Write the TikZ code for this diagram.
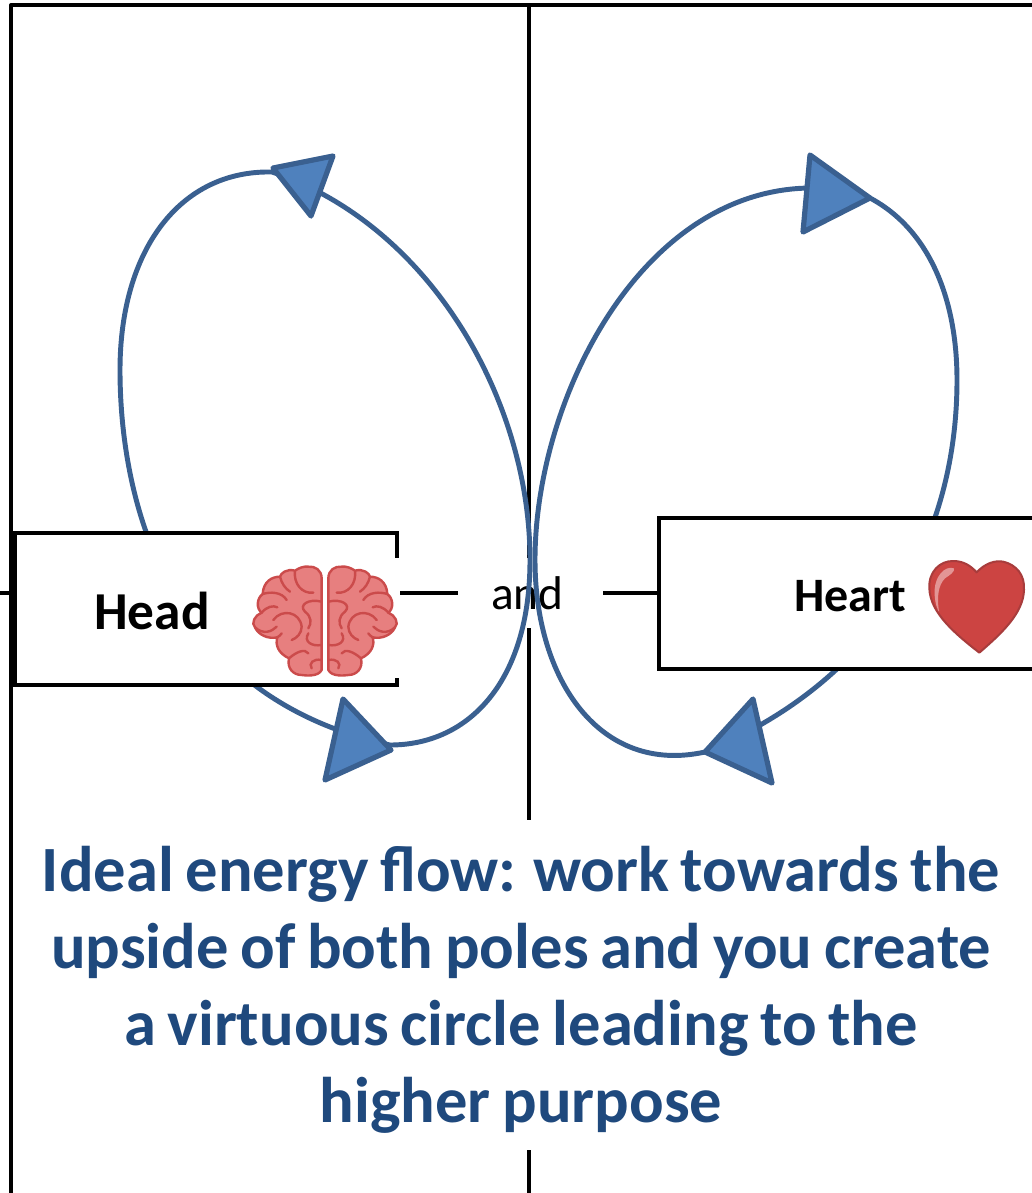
\documentclass[tikz,border=0pt]{standalone}
\usepackage{fontspec}
\setmainfont{Carlito}
\newfontfamily\titlefont[WordSpace=0.8,BoldFeatures={WordSpace=0.8}]{Carlito}
\definecolor{curveblue}{HTML}{3A6090}
\definecolor{fillblue}{HTML}{4F81BD}
\definecolor{titleblue}{HTML}{1F497D}
\definecolor{brainfill}{HTML}{E77F7F}
\definecolor{brainline}{HTML}{CB4B4B}
\definecolor{heartfill}{HTML}{CC4442}
\definecolor{heartline}{HTML}{A83C3C}
\definecolor{hearthi}{HTML}{E39595}
\tikzset{
  frameline/.style={black,line width=3pt},
  loopcurve/.style={curveblue,line width=3.7pt},
  flowtip/.style={draw=curveblue,fill=fillblue,line width=3.9pt,line join=round},
  polebox/.style={draw=black,fill=white,line width=3pt,inner sep=0pt,outer sep=0pt},
  coverlabel/.style={fill=white,inner sep=0pt,outer sep=0pt,align=center},
  brainhalf/.style={draw=brainline,fill=brainfill,line width=1.8pt,line join=round},
  brainfold/.style={draw=brainline,line width=1.8pt,line cap=round}
}
\newcommand{\brainside}{%
  \path[brainhalf] (245,175) .. controls (245,150) and (225,138) .. (205,140)
    .. controls (190,138) and (175,145) .. (165,152)
    .. controls (140,145) and (122,160) .. (120,170)
    .. controls (95,170) and (70,185) .. (68,222)
    .. controls (50,235) and (48,265) .. (65,278)
    .. controls (45,285) and (32,310) .. (45,322)
    .. controls (55,345) and (85,358) .. (112,352)
    .. controls (105,375) and (115,400) .. (147,415)
    .. controls (140,445) and (160,465) .. (185,465)
    .. controls (200,467) and (235,470) .. (245,450) -- cycle;
  \path[brainfold] (165,152) .. controls (160,190) and (185,222) .. (220,218);
  \path[brainfold] (120,170) .. controls (125,190) and (135,205) .. (150,215);
  \path[brainfold] (68,222) .. controls (90,215) and (125,215) .. (140,240);
  \path[brainfold] (65,278) .. controls (80,260) and (100,255) .. (112,262);
  \path[brainfold] (45,322) .. controls (70,345) and (95,335) .. (110,320);
  \path[brainfold] (100,300) .. controls (125,265) and (180,275) .. (185,320) .. controls (185,340) and (170,355) .. (155,360);
  \path[brainfold] (245,245) .. controls (205,235) and (175,255) .. (195,275) .. controls (215,290) and (215,310) .. (205,325);
  \path[brainfold] (245,375) .. controls (215,380) and (190,365) .. (205,340);
  \path[brainfold] (147,415) .. controls (170,395) and (195,385) .. (205,400);
  \path[brainfold] (245,420) .. controls (220,415) and (205,430) .. (215,445);
  \path[brainfold] (112,352) .. controls (118,348) and (122,345) .. (125,340);
}
\begin{document}
\begin{tikzpicture}[x=0.75pt,y=-0.75pt]
\path[use as bounding box] (0,0) rectangle (1032,1193);
\clip (0,0) rectangle (1032,1193);
\fill[white] (0,0) rectangle (1032,1193);
% free ends of the frame
\coordinate (tl) at (11,5);
\coordinate (tr) at (1040,5);
\coordinate (bl) at (11,1200);
\coordinate (tc) at (528.5,5);
\coordinate (bc) at (528.5,1200);
\coordinate (lt) at (-5,593);
% frame
\draw[frameline,line join=round] (tr) -- (tl) -- (bl);
\draw[frameline] (tc) -- (bc);
% connector
\node[polebox,draw=none,fill=none,minimum width=1pt,minimum height=1pt] (heartanchor) at (659,593) {};
\draw[frameline] (lt) -- (heartanchor.center);
% and label, title
\node[coverlabel,minimum width=108.75pt,minimum height=52.5pt,font=\fontsize{35.5}{38}\selectfont] (andlabel) at (530.5,593) {\hspace*{-4.5pt}and};
\node[coverlabel,minimum width=720pt,minimum height=247.5pt] (titleground) at (521,985) {};
\node[inner sep=0pt,align=center,font=\titlefont\fontsize{48.4}{57.75}\selectfont\bfseries,text=titleblue] (titletext) at (521,990)
 {Ideal energy flow: work towards the\\upside of both poles and you create\\a virtuous circle leading to the\\higher purpose};
% loops
\draw[loopcurve] (390,745) .. controls (470,745) and (530,680) .. (530,560)
   .. controls (530,400) and (430,225) .. (272,172)
   .. controls (180,170) and (120,250) .. (120,370)
   .. controls (120,490) and (160,695) .. (390,745) -- cycle;
\draw[loopcurve] (870,198) .. controls (930,230) and (957,300) .. (957,380)
   .. controls (957,525) and (890,675) .. (705,752)
   .. controls (600,775) and (535,680) .. (535,560)
   .. controls (535,400) and (640,190) .. (810,188)
   .. controls (830,188) and (850,190) .. (870,198) -- cycle;
% arrowheads
\draw[flowtip] (273,168) -- (333,156) -- (311,216) -- cycle;
\draw[flowtip] (343,699) -- (391,750) -- (325,780) -- cycle;
\draw[flowtip] (810,155) -- (870,198) -- (803,232) -- cycle;
\draw[flowtip] (753,699) -- (705,752) -- (772,783) -- cycle;
% pole boxes
\node[polebox,minimum width=286.5pt,minimum height=114pt] (headbox) at (206,609) {};
\node[polebox,minimum width=300pt,minimum height=113.25pt] (heartbox) at (859,593.5) {};
\node[font=\fontsize{40}{44}\selectfont\bfseries,inner sep=0pt] (headtext) at (152,611) {Head};
\node[font=\fontsize{36}{40}\selectfont\bfseries,inner sep=0pt] (hearttext) at (850,596) {Heart};
% brain picture with its white ground
\node[fill=white,minimum width=112pt,minimum height=90pt,inner sep=0pt,outer sep=0pt] (brainground) at (325,618) {};
\begin{scope}[shift={(240,520)},x=0.25pt,y=-0.25pt]
  \brainside
  \begin{scope}[xscale=-1,shift={(-510,0)}]
    \brainside
  \end{scope}
\end{scope}
% heart picture
\begin{scope}[shift={(640,500)},x=0.25pt,y=-0.25pt]
  \path[fill=heartfill,draw=heartline,line width=1.5pt,line join=round]
    (1010,217) .. controls (1035,190) and (1065,180) .. (1090,185)
    .. controls (1130,195) and (1155,225) .. (1152,270)
    .. controls (1150,340) and (1085,400) .. (1018,458)
    .. controls (950,405) and (870,340) .. (868,265)
    .. controls (865,215) and (900,182) .. (940,183)
    .. controls (970,183) and (992,197) .. (1010,217) -- cycle;
  \path[fill=hearthi] (942,205) .. controls (915,195) and (880,230) .. (884,285)
    .. controls (885,310) and (893,330) .. (897,335)
    .. controls (890,290) and (895,255) .. (915,235)
    .. controls (930,225) and (945,215) .. (942,205) -- cycle;
\end{scope}
\end{tikzpicture}
\end{document}
